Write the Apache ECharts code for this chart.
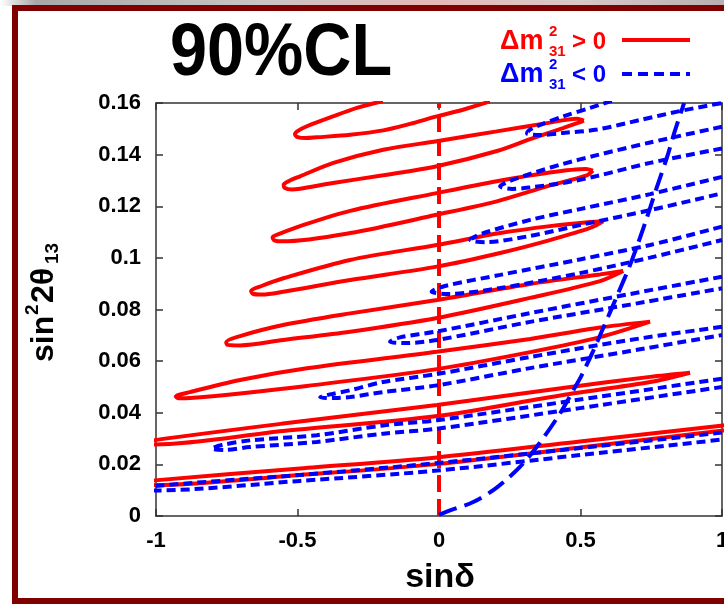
<!DOCTYPE html>
<html>
<head>
<meta charset="utf-8">
<script src="https://cdn.jsdelivr.net/npm/echarts@6/dist/echarts.min.js"></script>
<style>
html,body{margin:0;padding:0;background:#fff;overflow:hidden;}
#c{width:724px;height:608px;}
</style>
</head>
<body>
<div id="c"></div>
<script>
// ---- tick labels ----
const xTicks = [-1, -0.5, 0, 0.5, 1];
const yTicks = [0, 0.02, 0.04, 0.06, 0.08, 0.1, 0.12, 0.14, 0.16];

// ---- Δm²31 > 0 contours (red, solid) : [sinδ, sin²2θ13] ----
const redA = [[-0.198,0.1608],[-0.290,0.1581],[-0.375,0.1548],[-0.467,0.1510],[-0.497,0.1493],[-0.509,0.1480],[-0.500,0.1468],[-0.470,0.1464],[-0.432,0.1467],[-0.314,0.1477],[-0.197,0.1494],[-0.102,0.1519],[-0.008,0.1548],[0.085,0.1574],[0.180,0.1606]];
const redB = [[0.512,0.1532],[0.487,0.1539],[0.381,0.1522],[0.204,0.1490],[-0.008,0.1452],[-0.197,0.1419],[-0.373,0.1368],[-0.491,0.1316],[-0.530,0.1298],[-0.549,0.1283],[-0.545,0.1271],[-0.520,0.1265],[-0.491,0.1268],[-0.375,0.1290],[-0.197,0.1320],[-0.008,0.1355],[0.205,0.1414],[0.322,0.1460],[0.438,0.1503],[0.491,0.1523],[0.512,0.1532]];
const redC = [[0.544,0.1338],[0.519,0.1344],[0.381,0.1329],[0.204,0.1297],[-0.008,0.1251],[-0.314,0.1182],[-0.491,0.1123],[-0.562,0.1094],[-0.588,0.1080],[-0.582,0.1068],[-0.551,0.1064],[-0.314,0.1096],[-0.008,0.1167],[0.204,0.1219],[0.381,0.1277],[0.522,0.1320],[0.544,0.1338]];
const redD = [[0.580,0.1142],[0.534,0.1139],[0.392,0.1123],[0.216,0.1096],[-0.008,0.1050],[-0.314,0.0992],[-0.550,0.0921],[-0.625,0.0892],[-0.664,0.0872],[-0.658,0.0861],[-0.625,0.0858],[-0.550,0.0869],[-0.314,0.0914],[-0.008,0.0966],[0.216,0.1019],[0.392,0.1069],[0.534,0.1116],[0.580,0.1142]];
const redE = [[0.651,0.0949],[0.569,0.0936],[0.322,0.0899],[-0.007,0.0837],[-0.314,0.0785],[-0.551,0.0740],[-0.703,0.0697],[-0.752,0.0673],[-0.747,0.0663],[-0.703,0.0661],[-0.551,0.0682],[-0.314,0.0714],[-0.007,0.0767],[0.322,0.0845],[0.569,0.0910],[0.651,0.0949]];
const redF = [[0.746,0.0753],[0.569,0.0730],[0.322,0.0686],[-0.008,0.0636],[-0.467,0.0572],[-0.703,0.0527],[-0.880,0.0480],[-0.930,0.0463],[-0.920,0.0456],[-0.880,0.0457],[-0.703,0.0475],[-0.467,0.0504],[-0.008,0.0569],[0.322,0.0635],[0.569,0.0693],[0.746,0.0753]];
const redG = [[0.887,0.0555],[0.746,0.0539],[0.438,0.0496],[-0.007,0.0430],[-0.551,0.0358],[-1.004,0.0294],[-1.028,0.0285],[-1.004,0.0277],[-0.551,0.0329],[-0.007,0.0387],[0.438,0.0469],[0.746,0.0519],[0.887,0.0555]];
const redH = [[1.028,0.0354],[1.004,0.0351],[0.498,0.0289],[-0.007,0.0227],[-0.491,0.0184],[-1.004,0.0138],[-1.057,0.0130],[-1.004,0.0120],[-0.491,0.0159],[-0.007,0.0201],[0.498,0.0265],[1.004,0.0331],[1.046,0.0335]];

// ---- Δm²31 < 0 contours (blue, dashed) ----
const blue1 = [[0.611,0.1608],[0.534,0.1581],[0.439,0.1548],[0.346,0.1510],[0.318,0.1494],[0.311,0.1482],[0.357,0.1476],[0.438,0.1484],[0.558,0.1497],[0.710,0.1534],[0.852,0.1569],[1.0,0.1600]];
const blue2 = [[1.0,0.1508],[0.746,0.1447],[0.558,0.1398],[0.438,0.1364],[0.322,0.1325],[0.251,0.1298],[0.216,0.1277],[0.258,0.1267],[0.322,0.1273],[0.438,0.1290],[0.558,0.1317],[0.746,0.1368],[1.0,0.1424]];
const blue3 = [[1.0,0.1314],[0.746,0.1247],[0.498,0.1189],[0.322,0.1147],[0.152,0.1094],[0.110,0.1070],[0.163,0.1061],[0.322,0.1085],[0.498,0.1127],[0.746,0.1185],[1.0,0.1250]];
const blue4 = [[1.0,0.1121],[0.746,0.1050],[0.498,0.0994],[0.216,0.0934],[0.021,0.0891],[-0.026,0.0869],[0.032,0.0860],[0.216,0.0883],[0.498,0.0941],[0.746,0.1001],[1.0,0.1069]];
const blue5 = [[1.0,0.0927],[0.675,0.0860],[0.322,0.0786],[-0.007,0.0715],[-0.138,0.0692],[-0.173,0.0675],[-0.120,0.0670],[-0.007,0.0682],[0.322,0.0752],[0.675,0.0819],[1.0,0.0882]];
const blue6 = [[1.0,0.0733],[0.675,0.0682],[0.322,0.0616],[-0.007,0.0550],[-0.198,0.0519],[-0.314,0.0487],[-0.385,0.0471],[-0.420,0.0460],[-0.367,0.0457],[-0.314,0.0461],[-0.198,0.0480],[-0.007,0.0506],[0.322,0.0573],[0.675,0.0639],[1.0,0.0701]];
const blue7 = [[1.0,0.0532],[0.498,0.0451],[-0.007,0.0371],[-0.197,0.0351],[-0.432,0.0313],[-0.668,0.0293],[-0.767,0.0275],[-0.803,0.0261],[-0.756,0.0256],[-0.668,0.0267],[-0.432,0.0287],[-0.197,0.0319],[-0.007,0.0338],[0.498,0.0418],[1.0,0.0500]];
const blue8 = [[1.0,0.0323],[0.498,0.0263],[-0.007,0.0205],[-0.491,0.0159],[-1.004,0.0116],[-1.039,0.0105],[-1.004,0.0099],[-0.491,0.0136],[-0.007,0.0176],[0.498,0.0236],[1.0,0.0296]];

// ---- blue long-dashed curve ----
const blueCurve = [[0.0,0.0005],[0.039,0.0022],[0.121,0.0054],[0.204,0.0110],[0.286,0.0190],[0.357,0.0285],[0.428,0.0398],[0.475,0.0488],[0.504,0.0545],[0.545,0.0640],[0.581,0.0730],[0.628,0.0850],[0.675,0.0972],[0.710,0.1077],[0.734,0.1154],[0.769,0.1271],[0.805,0.1387],[0.833,0.1490],[0.860,0.1580],[0.866,0.1600]];

// ---- red dashed line at sinδ = 0 ----
const zeroLine = [[0,0],[0,0.16]];

const RED = '#ff0000', BLUE = '#0000ff';
const FONT = '"Liberation Sans", Arial, sans-serif';

const redSets = [redA, redB, redC, redD, redE, redF, redG, redH];
const blueSets = [blue1, blue2, blue3, blue4, blue5, blue6, blue7, blue8];

const series = [];
series.push({type:'line', data: zeroLine, symbol:'none', silent:true,
  lineStyle:{color:RED, width:4, type:[17,7]}});
redSets.forEach(d => series.push({type:'line', data:d, symbol:'none', smooth:0.3, silent:true,
  lineStyle:{color:RED, width:4}}));
blueSets.forEach(d => series.push({type:'line', data:d, symbol:'none', smooth:0.3, silent:true,
  lineStyle:{color:BLUE, width:4, type:[9,5]}}));
series.push({type:'line', data: blueCurve, symbol:'none', smooth:0.3, silent:true,
  lineStyle:{color:BLUE, width:4, type:[19,8]}});

const axisLineStyle = {color:'#333', width:1.5};
const labelStyle = {color:'#000', fontWeight:'bold', fontSize:22, fontFamily:FONT};

function legendRow(y, color, sym) {
  return [
    {type:'text', x:500, y:y, style:{text:'\u0394m', fill:color, font:'bold 27px '+FONT, verticalAlign:'middle'}},
    {type:'text', x:549, y:y-10, style:{text:'2', fill:color, font:'bold 15px '+FONT, verticalAlign:'middle'}},
    {type:'text', x:549, y:y+10, style:{text:'31', fill:color, font:'bold 15px '+FONT, verticalAlign:'middle'}},
    {type:'text', x:572, y:y, style:{text:sym + ' 0', fill:color, font:'bold 24px '+FONT, verticalAlign:'middle'}}
  ];
}

const chart = echarts.init(document.getElementById('c'), null, {renderer:'canvas'});
chart.setOption({
  animation:false,
  backgroundColor:'#fff',
  grid:{left:156, top:103, width:566, height:413, containLabel:false, outerBoundsMode:'none'},
  xAxis:[
    {type:'value', min:-1, max:1, interval:0.5, position:'bottom',
     axisLine:{show:true, onZero:false, lineStyle:axisLineStyle},
     axisTick:{show:true, inside:true, length:7, lineStyle:axisLineStyle},
     splitLine:{show:false},
     axisLabel:Object.assign({margin:14, formatter:v => String(v)}, labelStyle)},
    {type:'value', min:-1, max:1, interval:0.5, position:'top',
     axisLine:{show:true, onZero:false, lineStyle:axisLineStyle},
     axisTick:{show:true, inside:true, length:7, lineStyle:axisLineStyle},
     splitLine:{show:false}, axisLabel:{show:false}}
  ],
  yAxis:[
    {type:'value', min:0, max:0.16, interval:0.02, position:'left',
     axisLine:{show:true, onZero:false, lineStyle:axisLineStyle},
     axisTick:{show:true, inside:true, length:7, lineStyle:axisLineStyle},
     splitLine:{show:false},
     axisLabel:Object.assign({margin:15, formatter:v => String(+v.toFixed(2))}, labelStyle)},
    {type:'value', min:0, max:0.16, interval:0.02, position:'right',
     axisLine:{show:true, onZero:false, lineStyle:axisLineStyle},
     axisTick:{show:true, inside:true, length:7, lineStyle:axisLineStyle},
     splitLine:{show:false}, axisLabel:{show:false}}
  ],
  series: series,
  graphic:[
    {type:'rect', shape:{x:0, y:0, width:724, height:6}, silent:true,
     style:{fill:new echarts.graphic.LinearGradient(0,0,1,0,[
       {offset:0, color:'#ffffff'},{offset:0.05, color:'#a8a8a8'},{offset:0.35, color:'#c8c4c4'},
       {offset:0.6, color:'#e6b8b8'},{offset:0.8, color:'#d8c8c8'},{offset:1, color:'#b8b0b0'}])}},
    {type:'rect', shape:{x:15, y:8, width:740, height:593}, silent:true, z:100,
     style:{fill:'none', stroke:'#800000', lineWidth:6}},
    {type:'text', x:170, y:55, scaleX:0.9, silent:true,
     style:{text:'90%CL', fill:'#000', font:'bold 74px '+FONT, verticalAlign:'middle'}},
    ...legendRow(42, RED, '>'),
    ...legendRow(75, BLUE, '<'),
    {type:'line', shape:{x1:622, y1:40, x2:690, y2:40}, silent:true, style:{stroke:RED, lineWidth:4}},
    {type:'line', shape:{x1:622, y1:74, x2:690, y2:74}, silent:true, style:{stroke:BLUE, lineWidth:4, lineDash:[10,6]}},
    {type:'text', x:440, y:578, silent:true,
     style:{text:'sin\u03b4', fill:'#000', font:'bold 34px '+FONT, align:'center', verticalAlign:'middle'}},
    {type:'group', x:44, y:300, rotation:Math.PI/2, silent:true, children:[
      {type:'text', x:-62, y:0, style:{text:'sin', fill:'#000', font:'bold 32px '+FONT, verticalAlign:'middle'}},
      {type:'text', x:-15, y:-11, style:{text:'2', fill:'#000', font:'bold 19px '+FONT, verticalAlign:'middle'}},
      {type:'text', x:-3, y:0, style:{text:'2\u03b8', fill:'#000', font:'bold 32px '+FONT, verticalAlign:'middle'}},
      {type:'text', x:36, y:9, style:{text:'13', fill:'#000', font:'bold 19px '+FONT, verticalAlign:'middle'}}
    ]}
  ]
});
</script>
</body>
</html>
